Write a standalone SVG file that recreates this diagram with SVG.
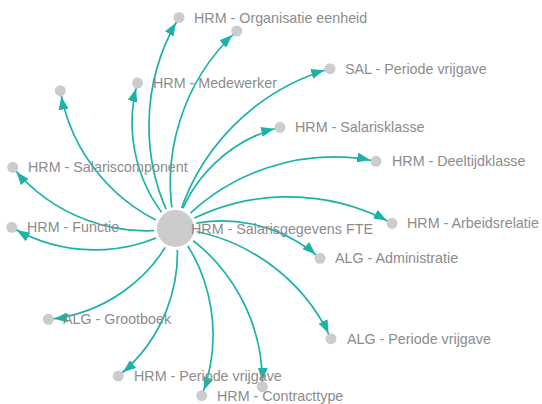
<svg xmlns="http://www.w3.org/2000/svg" width="542" height="404" viewBox="0 0 542 404">
<style>
.e{fill:none;stroke:#1cb2a8;stroke-width:1.7}
.n{fill:#cccccc}
.c{fill:#cccccc;stroke:#ffffff;stroke-width:3}
.t{font-family:"Liberation Sans",Arial,sans-serif;font-size:14.3px;fill:#8c8c8c}
</style>
<defs>
<marker id="arr" viewBox="0 -5 13 10" refX="19" refY="0" markerWidth="13" markerHeight="10" markerUnits="userSpaceOnUse" orient="auto">
<path d="M0,-5L13,0L0,5Z" fill="#1cb2a8"/>
</marker>
</defs>
<rect width="542" height="404" fill="#ffffff"/>
<g id="edges">
<path class="e" marker-end="url(#arr)" d="M175.5,228.5A211,211 0 0,1 179,17.5"/>
<path class="e" marker-end="url(#arr)" d="M175.5,228.5A206.8,206.8 0 0,1 236.7,31"/>
<path class="e" marker-end="url(#arr)" d="M175.5,228.5A150.4,150.4 0 0,1 137.5,83"/>
<path class="e" marker-end="url(#arr)" d="M175.5,228.5A179.6,179.6 0 0,1 60.3,90.7"/>
<path class="e" marker-end="url(#arr)" d="M175.5,228.5A173.9,173.9 0 0,1 12.7,167.3"/>
<path class="e" marker-end="url(#arr)" d="M175.5,228.5A222.3,222.3 0 0,1 330,68.7"/>
<path class="e" marker-end="url(#arr)" d="M175.5,228.5A145.5,145.5 0 0,1 280,127.3"/>
<path class="e" marker-end="url(#arr)" d="M175.5,228.5A211.5,211.5 0 0,1 376,161.3"/>
<path class="e" marker-end="url(#arr)" d="M175.5,228.5A163.8,163.8 0 0,1 11.7,227.3"/>
<path class="e" marker-end="url(#arr)" d="M175.5,228.5A216.6,216.6 0 0,1 392,223.3"/>
<path class="e" marker-end="url(#arr)" d="M175.5,228.5A147.5,147.5 0 0,1 320,258.3"/>
<path class="e" marker-end="url(#arr)" d="M175.5,228.5A156.3,156.3 0 0,1 48.3,319.3"/>
<path class="e" marker-end="url(#arr)" d="M175.5,228.5A190.6,190.6 0 0,1 331,338.7"/>
<path class="e" marker-end="url(#arr)" d="M175.5,228.5A158.2,158.2 0 0,1 118.3,376"/>
<path class="e" marker-end="url(#arr)" d="M175.5,228.5A180.4,180.4 0 0,1 262.3,386.7"/>
<path class="e" marker-end="url(#arr)" d="M175.5,228.5A169.2,169.2 0 0,1 201.7,395.7"/>
</g>
<g id="n-center"><circle class="c" cx="175.5" cy="228.5" r="20"/><text class="t" x="191" y="233.5">HRM - Salarisgegevens FTE</text></g>
<g id="n-org"><circle class="n" cx="179" cy="17.5" r="5.5"/><text class="t" x="194" y="22.5">HRM - Organisatie eenheid</text></g>
<g id="n-a"><circle class="n" cx="236.7" cy="31" r="5.5"/></g>
<g id="n-medewerker"><circle class="n" cx="137.5" cy="83" r="5.5"/><text class="t" x="153" y="88">HRM - Medewerker</text></g>
<g id="n-b"><circle class="n" cx="60.3" cy="90.7" r="5.5"/></g>
<g id="n-salariscomponent"><circle class="n" cx="12.7" cy="167.3" r="5.5"/><text class="t" x="28" y="172.3">HRM - Salariscomponent</text></g>
<g id="n-sal-periode"><circle class="n" cx="330" cy="68.7" r="5.5"/><text class="t" x="345" y="73.7">SAL - Periode vrijgave</text></g>
<g id="n-salarisklasse"><circle class="n" cx="280" cy="127.3" r="5.5"/><text class="t" x="295" y="132.3">HRM - Salarisklasse</text></g>
<g id="n-deeltijdklasse"><circle class="n" cx="376" cy="161.3" r="5.5"/><text class="t" x="392" y="166.3">HRM - Deeltijdklasse</text></g>
<g id="n-functie"><circle class="n" cx="11.7" cy="227.3" r="5.5"/><text class="t" x="27" y="232.3">HRM - Functie</text></g>
<g id="n-arbeidsrelatie"><circle class="n" cx="392" cy="223.3" r="5.5"/><text class="t" x="407" y="228.3">HRM - Arbeidsrelatie</text></g>
<g id="n-administratie"><circle class="n" cx="320" cy="258.3" r="5.5"/><text class="t" x="335" y="263.3">ALG - Administratie</text></g>
<g id="n-grootboek"><circle class="n" cx="48.3" cy="319.3" r="5.5"/><text class="t" x="63" y="324.3">ALG - Grootboek</text></g>
<g id="n-alg-periode"><circle class="n" cx="331" cy="338.7" r="5.5"/><text class="t" x="347" y="343.7">ALG - Periode vrijgave</text></g>
<g id="n-hrm-periode"><circle class="n" cx="118.3" cy="376" r="5.5"/><text class="t" x="134" y="381">HRM - Periode vrijgave</text></g>
<g id="n-c"><circle class="n" cx="262.3" cy="386.7" r="5.5"/></g>
<g id="n-contracttype"><circle class="n" cx="201.7" cy="395.7" r="5.5"/><text class="t" x="217" y="400.7">HRM - Contracttype</text></g>
</svg>
